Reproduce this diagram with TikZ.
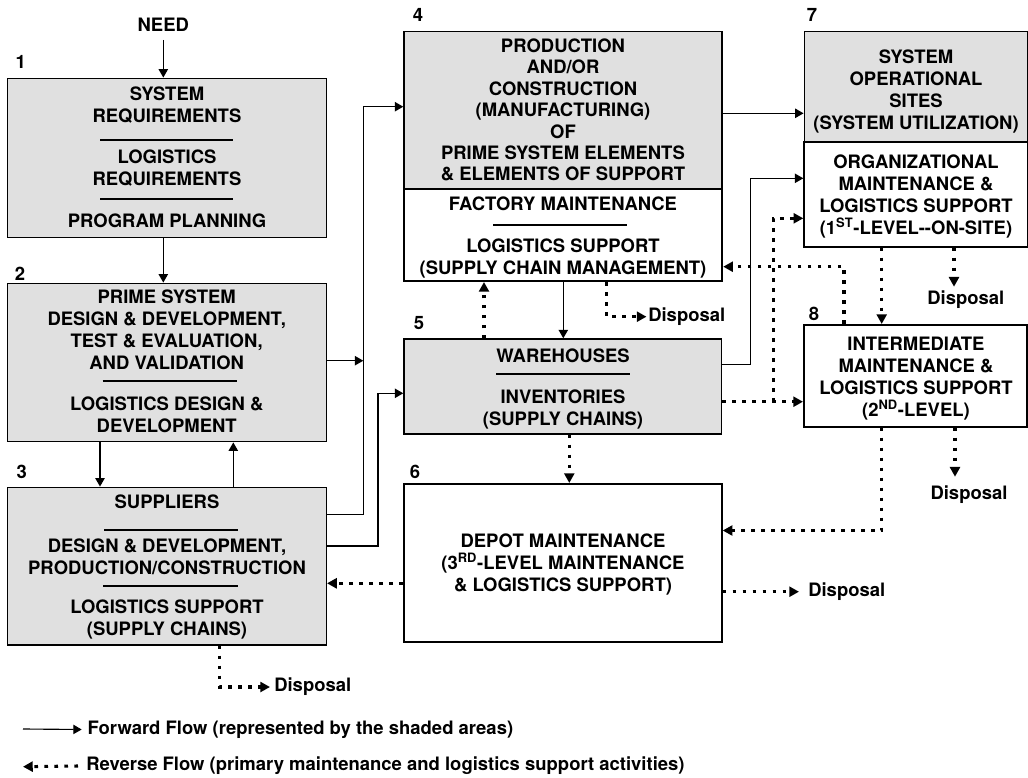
\documentclass[tikz,border=0pt]{standalone}
\usepackage{fontspec}
\setmainfont{TeX Gyre Heros}
\usetikzlibrary{arrows.meta,calc,fit}
\definecolor{boxgray}{RGB}{224,224,224}
\begin{document}
\begin{tikzpicture}[x=0.75pt,y=-0.75pt,
  txt/.style={inner sep=0pt, align=center, font=\fontsize{13.85pt}{16.5pt}\selectfont\bfseries},
  txtb/.style={inner sep=0pt, align=center, font=\fontsize{13.85pt}{16.05pt}\selectfont\bfseries},
  num/.style={txt, anchor=base},
  gbox/.style={draw, fill=boxgray, line width=1.1pt, inner sep=0pt},
  wbox/.style={draw, fill=white, line width=1.5pt, inner sep=0pt},
  fwd/.style={line width=0.85pt, -{Triangle[length=6.3pt,width=7pt]}},
  rev/.style={line width=2.3pt, dash pattern=on 2.8pt off 4.7pt, -{Triangle[length=7.3pt,width=7.5pt]}},
  divider/.style={line width=0.8pt},
]
\useasboundingbox (0,0) rectangle (1028,778);

% ---------- boxes ----------
\node[gbox, fit={(7.3,78.3) (326.7,237.3)}] (b1) {};
\node[gbox, fit={(7.3,283.3) (326.7,441.7)}] (b2) {};
\node[gbox, fit={(7.3,487.3) (326.3,645)}] (b3) {};
\node[gbox, fit={(404,31.7) (722.2,189.3)}] (b4) {};
\node[wbox, fit={(404,189.3) (722.2,281)}] (fac) {};
\node[gbox, fit={(404,339) (721.7,434)}] (b5) {};
\node[wbox, fit={(404,484) (721.7,641.7)}] (b6) {};
\node[gbox, fit={(804.3,31.7) (1027.7,141.7)}] (b7) {};
\node[wbox, fit={(804.3,141.7) (1027.7,246.7)}] (org) {};
\node[wbox, fit={(804,325) (1027.3,426.7)}] (b8) {};

% ---------- box texts ----------
\node[txt,anchor=north] (b1a) at (167,86.8) {SYSTEM\\REQUIREMENTS};
\draw[divider] (100,140) -- (233.3,140);
\node[txt,anchor=north] (b1b) at (167,150) {LOGISTICS\\REQUIREMENTS};
\draw[divider] (100,199) -- (233.3,199);
\node[txt,anchor=north] (b1c) at (167,213.5) {PROGRAM PLANNING};

\node[txt,anchor=north] (b2a) at (166.7,290) {PRIME SYSTEM\\DESIGN \& DEVELOPMENT,\\TEST \& EVALUATION,\\AND VALIDATION};
\draw[divider] (102.7,381) -- (237.3,381);
\node[txt,anchor=north] (b2b) at (166.7,397) {LOGISTICS DESIGN \&\\DEVELOPMENT};

\node[txt,anchor=north] (b3a) at (167,495) {SUPPLIERS};
\draw[divider] (104,530) -- (238,530);
\node[txt,anchor=north] (b3b) at (167,538.5) {DESIGN \& DEVELOPMENT,\\PRODUCTION/CONSTRUCTION};
\draw[divider] (103,586) -- (238,586);
\node[txt,anchor=north] (b3c) at (167,600) {LOGISTICS SUPPORT\\(SUPPLY CHAINS)};

\node[txtb,anchor=north] (b4a) at (563,38.5) {PRODUCTION\\AND/OR\\CONSTRUCTION\\(MANUFACTURING)\\OF\\PRIME SYSTEM ELEMENTS\\\& ELEMENTS OF SUPPORT};

\node[txt,anchor=north] (faca) at (563,197) {FACTORY MAINTENANCE};
\draw[divider] (493,225) -- (627,225);
\node[txt,anchor=north] (facb) at (563,239) {LOGISTICS SUPPORT\\(SUPPLY CHAIN MANAGEMENT)};

\node[txt,anchor=north] (b5a) at (563,348.5) {WAREHOUSES};
\draw[divider] (496,374) -- (630,374);
\node[txt,anchor=north] (b5b) at (563,390) {INVENTORIES\\(SUPPLY CHAINS)};

\node[txt,anchor=north] (b6a) at (563,533.5) {DEPOT MAINTENANCE\\(3\textsuperscript{RD}-LEVEL MAINTENANCE\\\& LOGISTICS SUPPORT)};

\node[txt,anchor=north] (b7a) at (916,50) {SYSTEM\\OPERATIONAL\\SITES\\(SYSTEM UTILIZATION)};
\node[txt,anchor=north] (orga) at (916,155) {ORGANIZATIONAL\\MAINTENANCE \&\\LOGISTICS SUPPORT\\(1\textsuperscript{ST}-LEVEL-{}-ON-SITE)};
\node[txt,anchor=north] (b8a) at (916,337) {INTERMEDIATE\\MAINTENANCE \&\\LOGISTICS SUPPORT\\(2\textsuperscript{ND}-LEVEL)};

% ---------- numbers ----------
\node[num] (n1) at (20.8,68.3) {1};
\node[num] (n2) at (20,280) {2};
\node[num] (n3) at (21.7,478) {3};
\node[num] (n4) at (418,21.7) {4};
\node[num] (n5) at (419,329) {5};
\node[num] (n6) at (415,478) {6};
\node[num] (n7) at (812,21.7) {7};
\node[num] (n8) at (814,320) {8};
\node[num] (need) at (163.3,31.7) {NEED};

% ---------- forward flow ----------
\coordinate (busA) at (363.3,0);
\coordinate (busB) at (378,0);
\draw[fwd] ($(need.south)+(0,8)$) -- (b1.north -| need.south);
\draw[fwd] (b1.south -| need.south) -- (b2.north -| need.south);
\draw[fwd] (b2.south -| 100,0) -- (b3.north -| 100,0);
\draw[fwd] (b3.north -| 233.3,0) -- (b2.south -| 233.3,0);
\draw[fwd] (b2.east |- 0,360.7) -- (busA |- 0,360.7);
\draw[fwd] (b3.east |- 0,514.3) -| (busA |- 0,106.7) -- (b4.west |- 0,106.7);
\draw[fwd] (b3.east |- 0,546) -| (busB |- 0,393.3) -- (b5.west |- 0,393.3);
\draw[fwd] (b4.east |- 0,113.3) -- (b7.west |- 0,113.3);
\draw[fwd] (fac.south -| 563.3,0) -- (b5.north -| 563.3,0);
\draw[fwd] (b5.east |- 0,364.3) -| (750.5,178.3) -- (org.west |- 0,178.3);

% ---------- reverse flow ----------
\draw[rev] (b5.north -| 484,0) -- (fac.south -| 484,0);
\coordinate (dj) at (773.3,401.7);
\draw[rev] (b5.east |- dj) -- (b8.west |- dj);
\draw[rev] (dj) -- (773.3,218.3) -- (org.west |- 0,218.3);
\draw[rev] (b8.north -| 844,0) |- (fac.east |- 0,266.7);
\draw[rev] (org.south -| 881.7,0) -- (b8.north -| 881.7,0);
\draw[rev] (b8.south -| 881.7,0) |- (b6.east |- 0,530.5);
\draw[rev] (b5.south -| 569.3,0) -- (b6.north -| 569.3,0);
\draw[rev] (b6.west |- 0,583.3) -- (b3.east |- 0,583.3);

% ---------- disposals ----------
\node[txt,anchor=west] (dis1) at (648,316.7) {Disposal};
\draw[rev] (fac.south -| 606.7,0) |- ($(dis1.west)+(-1.5,0)$);
\node[txt,anchor=north] (dis2) at (965.8,290.5) {Disposal};
\coordinate (t2) at (954,286.7);
\draw[rev] (org.south -| t2) -- (t2);
\node[txt,anchor=north] (dis3) at (969,485) {Disposal};
\coordinate (t3) at (955,476.7);
\draw[rev] (b8.south -| t3) -- (t3);
\node[txt,anchor=west] (dis4) at (808,591.7) {Disposal};
\draw[rev] (b6.east |- 0,591.7) -- ($(dis4.west)+(-9,0)$);
\node[txt,anchor=west] (dis5) at (274,687) {Disposal};
\draw[rev] (b3.south -| 219.3,0) |- ($(dis5.west)+(-4,0)$);

% ---------- legend ----------
\node[txt,anchor=west] (lft) at (87.3,729.5) {Forward Flow (represented by the shaded areas)};
\coordinate (lf) at (23,729);
\draw[fwd] (lf) -- ($(lft.west)+(-5.6,0)$);
\node[txt,anchor=west] (lrt) at (86,766) {Reverse Flow (primary maintenance and logistics support activities)};
\coordinate (lr) at (23,766.7);
\draw[rev] ($(lrt.west)+(-8,0)$) -- (lr);
\end{tikzpicture}
\end{document}
